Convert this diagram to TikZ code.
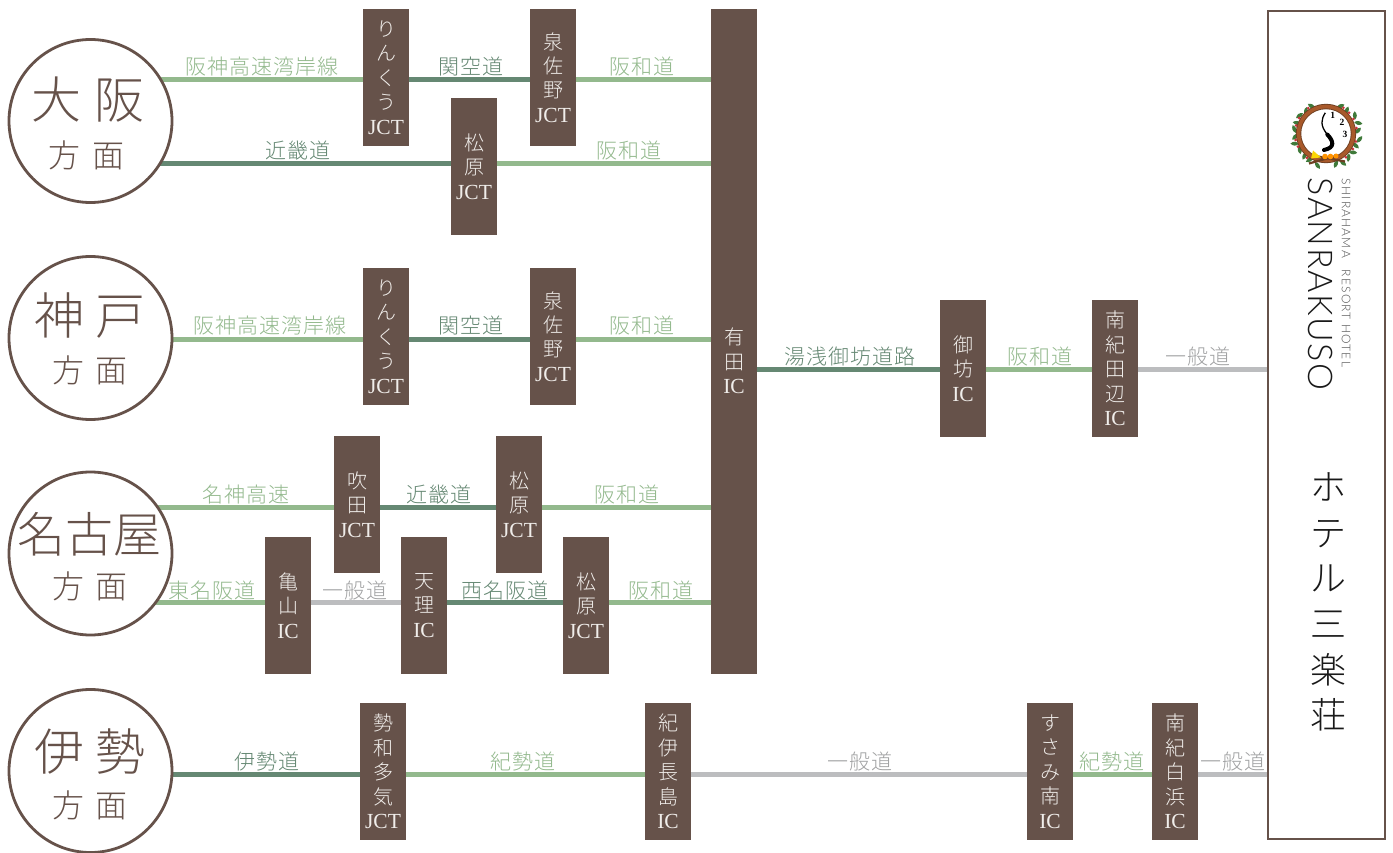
\documentclass[tikz,border=0pt]{standalone}
\usepackage{fontspec}
\usetikzlibrary{backgrounds,calc}
\setmainfont{Liberation Serif}
\newfontfamily\cjkbox{Noto Sans CJK JP Light}
\newfontfamily\cjklab[LetterSpace=4]{Noto Sans CJK JP Light}
\newfontfamily\cjkcity{Noto Sans CJK JP Light}
\newfontfamily\latlogo[LetterSpace=4.6]{Lato Light}
\newfontfamily\latsmall[LetterSpace=10]{Lato Light}
\newcommand{\lat}[1]{{\rmfamily\fontsize{21.5}{24.4}\selectfont #1}}
\definecolor{brn}{HTML}{66524A}
\definecolor{lgreen}{HTML}{93B98D}
\definecolor{dgreen}{HTML}{658873}
\definecolor{gry}{HTML}{BCBDBF}
\definecolor{txtw}{HTML}{F0EDEA}
\definecolor{vine}{HTML}{A8592B}
\definecolor{vined}{HTML}{6E3F22}
\definecolor{leafg}{HTML}{3F7A3A}
\definecolor{berry}{HTML}{C8323A}
\newcounter{lbl}
\tikzset{
  x=1pt,y=-1pt,
  road/.style={line width=5pt},
  lightroad/.style={road,draw=lgreen},
  darkroad/.style={road,draw=dgreen},
  grayroad/.style={road,draw=gry},
  boxnode/.style={anchor=north west,fill=brn,text=txtw,minimum width=46pt,inner sep=0pt,outer sep=0pt,align=center,font=\cjkbox\fontsize{20}{24.4}\selectfont},
  citynode/.style={circle,draw=brn,fill=white,line width=2.8pt,minimum size=163pt,inner sep=0pt,outer sep=0pt},
  bigtext/.style={text=brn,inner sep=0pt,font=\cjkcity\fontsize{50}{52}\selectfont},
  smalltext/.style={text=brn,inner sep=0pt,font=\cjkcity\fontsize{32}{34}\selectfont},
  labeltext/.style={inner sep=0pt,yshift=-0.7pt,font=\cjklab\fontsize{21}{23}\selectfont},
  numeral/.style={inner sep=0pt,font=\bfseries\fontsize{9.5}{10}\selectfont},
}
% \road{style}{from}{to}{y}{label x}{label y}{label}{label colour}
\newcommand{\road}[8]{%
  \begin{scope}[on background layer]
    \draw[#1] (#2 |- 0,#4) -- (#3 |- 0,#4);
  \end{scope}
  \stepcounter{lbl}%
  \node[labeltext,text=#8] (lab\arabic{lbl}) at (#5,#6) {#7};
}
\newcommand{\lroad}[6]{\road{lightroad}{#1}{#2}{#3}{#4}{#5}{#6}{lgreen}}
\newcommand{\droad}[6]{\road{darkroad}{#1}{#2}{#3}{#4}{#5}{#6}{dgreen}}
\newcommand{\groad}[6]{\road{grayroad}{#1}{#2}{#3}{#4}{#5}{#6}{gry!85!black}}
\newcommand{\icbox}[5]{\node[boxnode,minimum height=#4pt] (#1) at (#2,#3) {#5};}
\begin{document}
\begin{tikzpicture}
\useasboundingbox (0,0) rectangle (1393,853);
\begin{scope}[on background layer]
  \fill[white] (0,0) rectangle (1393,853);
\end{scope}

% origin circles
\node[citynode] (osaka) at (90.5,121) {};
\node[citynode] (kobe) at (90.5,338) {};
\node[citynode] (nagoya) at (90.5,553.5) {};
\node[citynode] (ise) at (90.5,771) {};
\node[bigtext] (t1a) at (88,100) {大\hspace{13pt}阪};
\node[smalltext] (t1b) at (86.5,155) {方\hspace{12pt}面};
\node[bigtext] (t2a) at (90,316) {神\hspace{11pt}戸};
\node[smalltext] (t2b) at (90,370) {方\hspace{12pt}面};
\node[bigtext,font=\cjkcity\fontsize{48}{50}\selectfont] (t3a) at (89,534) {名古屋};
\node[smalltext] (t3b) at (90,586) {方\hspace{12pt}面};
\node[bigtext] (t4a) at (90,752) {伊\hspace{11pt}勢};
\node[smalltext] (t4b) at (90,805) {方\hspace{12pt}面};

% boxes
\icbox{rink1}{363}{9}{137}{り\\ん\\く\\う\\\lat{JCT}}
\icbox{sen1}{530}{9}{137}{泉\\佐\\野\\\lat{JCT}}
\icbox{mats1}{451}{98}{137}{松\\原\\\lat{JCT}}
\icbox{arida}{711}{9}{665}{}
\node[boxnode,anchor=center,fill=none,minimum width=0pt] (aridatext) at (734,361) {有\\田\\\lat{IC}};
\icbox{rink2}{363}{268}{137}{り\\ん\\く\\う\\\lat{JCT}}
\icbox{sen2}{530}{268}{137}{泉\\佐\\野\\\lat{JCT}}
\icbox{suita}{334}{436}{137}{吹\\田\\\lat{JCT}}
\icbox{mats2}{496}{436}{137}{松\\原\\\lat{JCT}}
\icbox{kame}{265}{537}{137}{亀\\山\\\lat{IC}}
\icbox{tenri}{401}{537}{137}{天\\理\\\lat{IC}}
\icbox{mats3}{563}{537}{137}{松\\原\\\lat{JCT}}
\icbox{seiwa}{360}{703}{137}{勢\\和\\多\\気\\\lat{JCT}}
\icbox{kii}{645}{703}{137}{紀\\伊\\長\\島\\\lat{IC}}
\icbox{susami}{1027}{703}{137}{す\\さ\\み\\南\\\lat{IC}}
\icbox{nanki}{1152}{703}{137}{南\\紀\\白\\浜\\\lat{IC}}
\icbox{gobo}{940}{300}{137}{御\\坊\\\lat{IC}}
\icbox{tanabe}{1092}{300}{137}{南\\紀\\田\\辺\\\lat{IC}}

% hotel panel
\node[draw=brn,fill=white,line width=2.8pt,anchor=north west,minimum width=117pt,minimum height=828pt,inner sep=0pt,outer sep=0pt] (hotel) at (1268,11) {};
\node[text=black!90,inner sep=0pt,align=center,font=\cjkcity\fontsize{36}{45.6}\selectfont] (hname) at (1328,602) {ホ\\テ\\ル\\三\\楽\\荘};
\node[rotate=-90,text=black!90,inner sep=0pt,font=\latlogo\fontsize{34}{36}\selectfont] (logoa) at (1320.5,284) {SANRAKUSO};
\node[rotate=-90,text=black!70,inner sep=0pt,font=\latsmall\fontsize{12}{13}\selectfont] (logob) at (1346,273) {SHIRAHAMA\hspace{12pt}RESORT HOTEL};

% roads
\lroad{osaka}{rink1}{80}{262}{66}{阪神高速湾岸線}
\droad{rink1}{sen1}{80}{471}{66}{関空道}
\lroad{sen1}{arida}{80}{642}{66}{阪和道}
\droad{osaka}{mats1}{163.5}{298}{150}{近畿道}
\lroad{mats1}{arida}{163.5}{629}{150}{阪和道}
\lroad{kobe}{rink2}{339}{270}{325}{阪神高速湾岸線}
\droad{rink2}{sen2}{339}{471}{325}{関空道}
\lroad{sen2}{arida}{339}{642}{325}{阪和道}
\lroad{nagoya}{suita}{507}{246}{494}{名神高速}
\droad{suita}{mats2}{507}{439}{494}{近畿道}
\lroad{mats2}{arida}{507}{627}{494}{阪和道}
\lroad{nagoya}{kame}{602}{212}{590}{東名阪道}
\groad{kame}{tenri}{602}{355}{590}{一般道}
\droad{tenri}{mats3}{602}{505}{590}{西名阪道}
\lroad{mats3}{arida}{602}{661}{590}{阪和道}
\droad{ise}{seiwa}{774}{267}{761}{伊勢道}
\lroad{seiwa}{kii}{774}{523}{761}{紀勢道}
\groad{kii}{susami}{774}{860}{761}{一般道}
\lroad{susami}{nanki}{774}{1112}{761}{紀勢道}
\groad{nanki}{hotel}{774}{1233}{761}{一般道}
\droad{arida}{gobo}{369}{850}{356}{湯浅御坊道路}
\lroad{gobo}{tanabe}{369}{1040}{356}{阪和道}
\groad{tanabe}{hotel}{369}{1198}{356}{一般道}

% wreath logo
\begin{scope}[shift={(1326,133.5)}]
  \foreach \a/\d/\r in {5/32/40,18/34/-30,32/34/60,48/31/20,62/31/-40,118/31/30,132/30/-50,146/32/70,160/31/10,172/32/-60,186/31/40,198/33/-20,212/31/70,226/31/20,238/31/-30,255/33/50,288/32/-40,300/34/20,313/33/-50,325/33/30,338/32/-20,350/34/60}{
    \fill[leafg,rotate=\a,shift={(\d,0)},rotate=\r] (-4.2,0) .. controls (-1.5,-2.6) and (1.5,-2.6) .. (4.2,0) .. controls (1.5,2.6) and (-1.5,2.6) .. (-4.2,0) -- cycle;
  }
  \draw[vined,line width=5.4pt] (0,0) ellipse (27.5pt and 27pt);
  \draw[vine,line width=3.6pt] (0,0) ellipse (27.5pt and 27pt);
  \foreach \a in {10,28,42,56,125,150,165,192,205,232,310,330,345}{
    \fill[berry] (\a:31pt) circle (1.5pt);
  }
  \draw[vined,line width=2.2pt] (-17,30) -- (8,23) (19,28) -- (-8,23);
  \fill[orange!85!yellow] (-1,23) circle (2.8pt) (4.5,23) circle (2.8pt) (10,22.5) circle (2.5pt);
  \fill[yellow!75!orange] (-13,17) -- (-5,24) -- (-15,25) -- cycle;
  \draw[black,line width=1.3pt] (-0.7,-20.7) .. controls (-5,-14) and (-6,-8) .. (1.3,1);
  \draw[black,line width=4pt,line cap=round] (1.3,1) .. controls (7,7) and (10,14) .. (-2,16.5);
  \node[numeral] (n1) at (6.7,-18) {1};
  \node[numeral] (n2) at (16,-11.5) {2};
  \node[numeral] (n3) at (19,0.7) {3};
\end{scope}
\end{tikzpicture}
\end{document}
